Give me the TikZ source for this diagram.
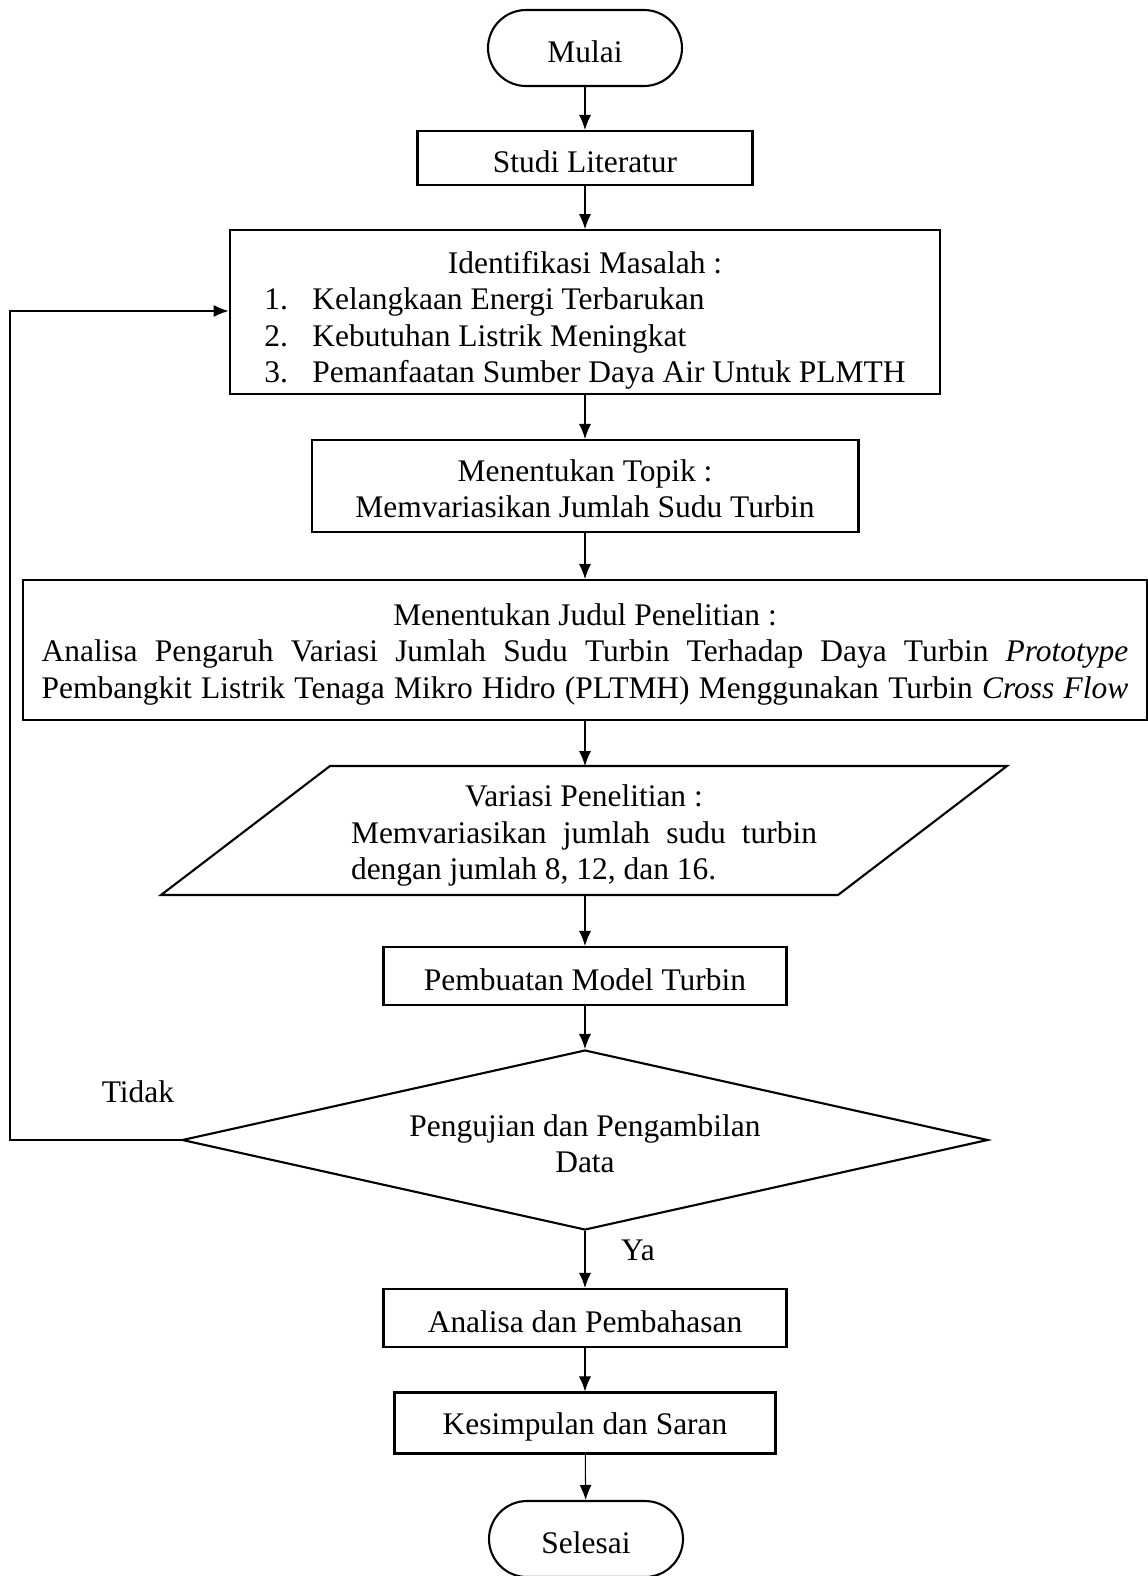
\documentclass[tikz,border=0pt]{standalone}
\usepackage{fontspec}
\setmainfont{Liberation Serif}
\usepackage{tikz}
\usetikzlibrary{arrows.meta,shapes.geometric,calc}

\begin{document}
\begin{tikzpicture}[x=0.02cm,y=-0.02cm,
every node/.style={font=\fontsize{17.9pt}{20.8pt}\selectfont,text height=0.6cm},
proses/.style={rectangle,draw,line width=1.2pt,inner sep=0pt},
terminal/.style={rectangle,draw,rounded corners=0.76cm,line width=1.2pt,minimum width=3.88cm,minimum height=1.52cm},
keputusan/.style={diamond,draw,line width=1.2pt,inner sep=0pt,shape aspect=4.48,minimum width=16.12cm,minimum height=3.6cm},
panah/.style={line width=0.6pt,-{Latex[length=0.3cm,width=0.24cm]}}]
\useasboundingbox (0,0) rectangle (1147,1576);
\node (mulai) at (585,48)[terminal] {Mulai};
\node (studi) at (585,158)[proses,minimum width=6.7cm,minimum height=1.08cm] {Studi Literatur};
\node (masalah) at (585,312)[proses,minimum width=14.22cm,minimum height=3.24cm,align=center,text height=45.3pt] {Identifikasi Masalah :\\
\begin{tabular}[t]{@{}l@{\hspace{0.49cm}}l@{}}1.&Kelangkaan Energi Terbarukan\\2.&Kebutuhan Listrik Meningkat\\3.&Pemanfaatan Sumber Daya Air Untuk PLMTH\end{tabular}};
\node (topik) at (585,486)[proses,minimum width=10.94cm,minimum height=1.84cm,align=center,text height=36.3pt] {Menentukan Topik :\\Memvariasikan Jumlah Sudu Turbin};
\node (judul) at (585,650)[proses,minimum width=22.48cm,minimum height=2.8cm,align=center,text height=59pt] {Menentukan Judul Penelitian :\\
\makebox[21.74cm][s]{Analisa Pengaruh Variasi Jumlah Sudu Turbin Terhadap Daya Turbin \textit{Prototype}}\\
\makebox[21.74cm][s]{Pembangkit Listrik Tenaga Mikro Hidro (PLTMH) Menggunakan Turbin \textit{Cross Flow}}};
\draw[line width=1.2pt] (330,766) -- (1007,766) -- (838,895) -- (161,895) -- cycle;
\coordinate (variasiatas) at (585,766);
\coordinate (variasibawah) at (585,895);
\node (variasi) at (584,836)[align=left,text height=2*20.8pt+12.1pt] {\makebox[9.32cm]{Variasi Penelitian :}\\
\makebox[9.32cm][s]{Memvariasikan jumlah sudu turbin}\\dengan jumlah 8, 12, dan 16.};
\node (model) at (585,976)[proses,minimum width=8.06cm,minimum height=1.16cm] {Pembuatan Model Turbin};
\node (uji) at (585,1140)[keputusan,align=center,text height=37.4pt] {Pengujian dan Pengambilan\\Data};
\node (analisa) at (585,1318)[proses,minimum width=8.06cm,minimum height=1.16cm] {Analisa dan Pembahasan};
\node (simpul) at (585,1423)[proses,minimum width=7.62cm,minimum height=1.22cm] {Kesimpulan dan Saran};
\node (selesai) at (586,1539)[terminal] {Selesai};
\node (tidak) at (138,1088) {Tidak};
\node (ya) at (638,1246) {Ya};
\coordinate (balik) at (10,311);
\draw[panah] (mulai) -- (studi);
\draw[panah] (studi) -- (masalah);
\draw[panah] (masalah) -- (topik);
\draw[panah] (topik) -- (judul);
\draw[panah] (judul) -- (variasiatas);
\draw[panah] (variasibawah) -- (model);
\draw[panah] (model) -- (uji);
\draw[panah] (uji) -- (analisa);
\draw[panah] (analisa) -- (simpul);
\draw[panah] (simpul) -- (selesai);
\draw[panah] (uji.west) -| (balik) -- (balik -| masalah.west);
\end{tikzpicture}
\end{document}
